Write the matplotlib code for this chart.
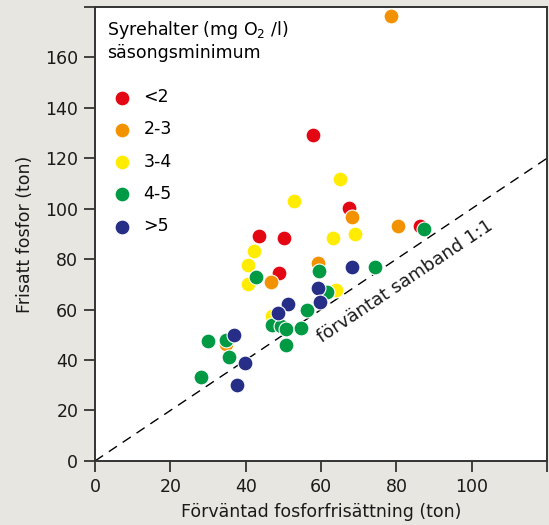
import matplotlib.pyplot as plt
import numpy as np

# Förväntad (x) och frisatt (y) fosfor per syreklass
red_x = [57.8, 43.5, 50.2, 67.4, 48.9, 86.4]
red_y = [129.2, 89.2, 88.4, 100.2, 74.6, 93.1]

orange_x = [78.5, 68.2, 80.5, 59.3, 46.7, 34.9]
orange_y = [176.3, 96.5, 93.1, 78.6, 70.9, 46.5]

yellow_x = [65.0, 52.9, 63.2, 69.0, 42.2, 40.6, 40.6, 47.1, 63.9]
yellow_y = [111.7, 103.2, 88.2, 89.8, 83.3, 77.8, 70.3, 57.6, 67.6]

green_x = [87.4, 59.4, 74.4, 42.8, 30.1, 34.9, 35.5, 28.2, 46.9, 49.3,
           50.8, 50.8, 54.6, 56.3, 61.7]
green_y = [91.8, 75.1, 76.8, 73.0, 47.7, 48.1, 41.3, 33.4, 53.7, 53.3,
           52.2, 46.0, 52.7, 60.0, 66.9]

blue_x = [68.3, 59.3, 59.7, 51.2, 48.7, 37.0, 39.8, 37.7]
blue_y = [77.0, 68.6, 63.1, 62.4, 58.7, 50.0, 38.8, 30.3]

classes = ['<2', '2-3', '3-4', '4-5', '>5']
colors = ['#e30613', '#f39200', '#ffec00', '#009a44', '#262e87']
xs = [red_x, orange_x, yellow_x, green_x, blue_x]
ys = [red_y, orange_y, yellow_y, green_y, blue_y]

bg = '#e8e6e0'
dark = '#333333'

plt.rcParams['font.family'] = 'DejaVu Sans'
plt.rcParams['mathtext.default'] = 'regular'

fig = plt.figure(figsize=(5.49, 5.25), dpi=100, facecolor=bg)
ax = fig.add_axes([0.173, 0.122, 0.8235, 0.865])
ax.set_facecolor('white')

# 1:1-linje
line = np.array([0, 120])
ax.plot(line, line, color='black', lw=1.0, dashes=(7, 5), zorder=1)
ax.text(60.2, 46.8, 'förväntat samband 1:1', rotation=33.7,
        rotation_mode='anchor', ha='left', va='baseline', fontsize=13,
        color='#1a1a1a')

for x, y, c, lab in zip(xs, ys, colors, classes):
    ax.scatter(x, y, s=115, color=c, edgecolors='white', linewidths=0.8,
               label=lab, zorder=3)

ax.set_xlim(0, 120)
ax.set_ylim(0, 180)
ax.set_xticks(range(0, 121, 20))
ax.set_xticklabels([str(v) for v in range(0, 101, 20)] + [''])
ax.set_yticks(range(0, 181, 20))
ax.set_yticklabels([str(v) for v in range(0, 161, 20)] + [''])
ax.tick_params(direction='out', length=8, width=1.3, color=dark,
               labelsize=12.5, labelcolor='#1a1a1a', pad=4)

for s in ax.spines.values():
    s.set_color(dark)
    s.set_linewidth(1.4)

ax.set_xlabel('Förväntad fosforfrisättning (ton)', fontsize=12.5,
              color='#1a1a1a', labelpad=5)
ax.set_ylabel('Frisatt fosfor (ton)', fontsize=12.5, color='#1a1a1a',
              labelpad=8)

leg = ax.legend(title='Syrehalter (mg O$_2$ /l)\nsäsongsminimum',
                loc='upper left', frameon=False, fontsize=12.5,
                title_fontsize=12.5, alignment='left', labelspacing=0.82,
                handletextpad=0.4, handlelength=1.7, borderaxespad=0.2,
                borderpad=0.5, markerscale=1.0)
leg._legend_box.sep = 19

fig.savefig('out.png', dpi=100, facecolor=bg)
